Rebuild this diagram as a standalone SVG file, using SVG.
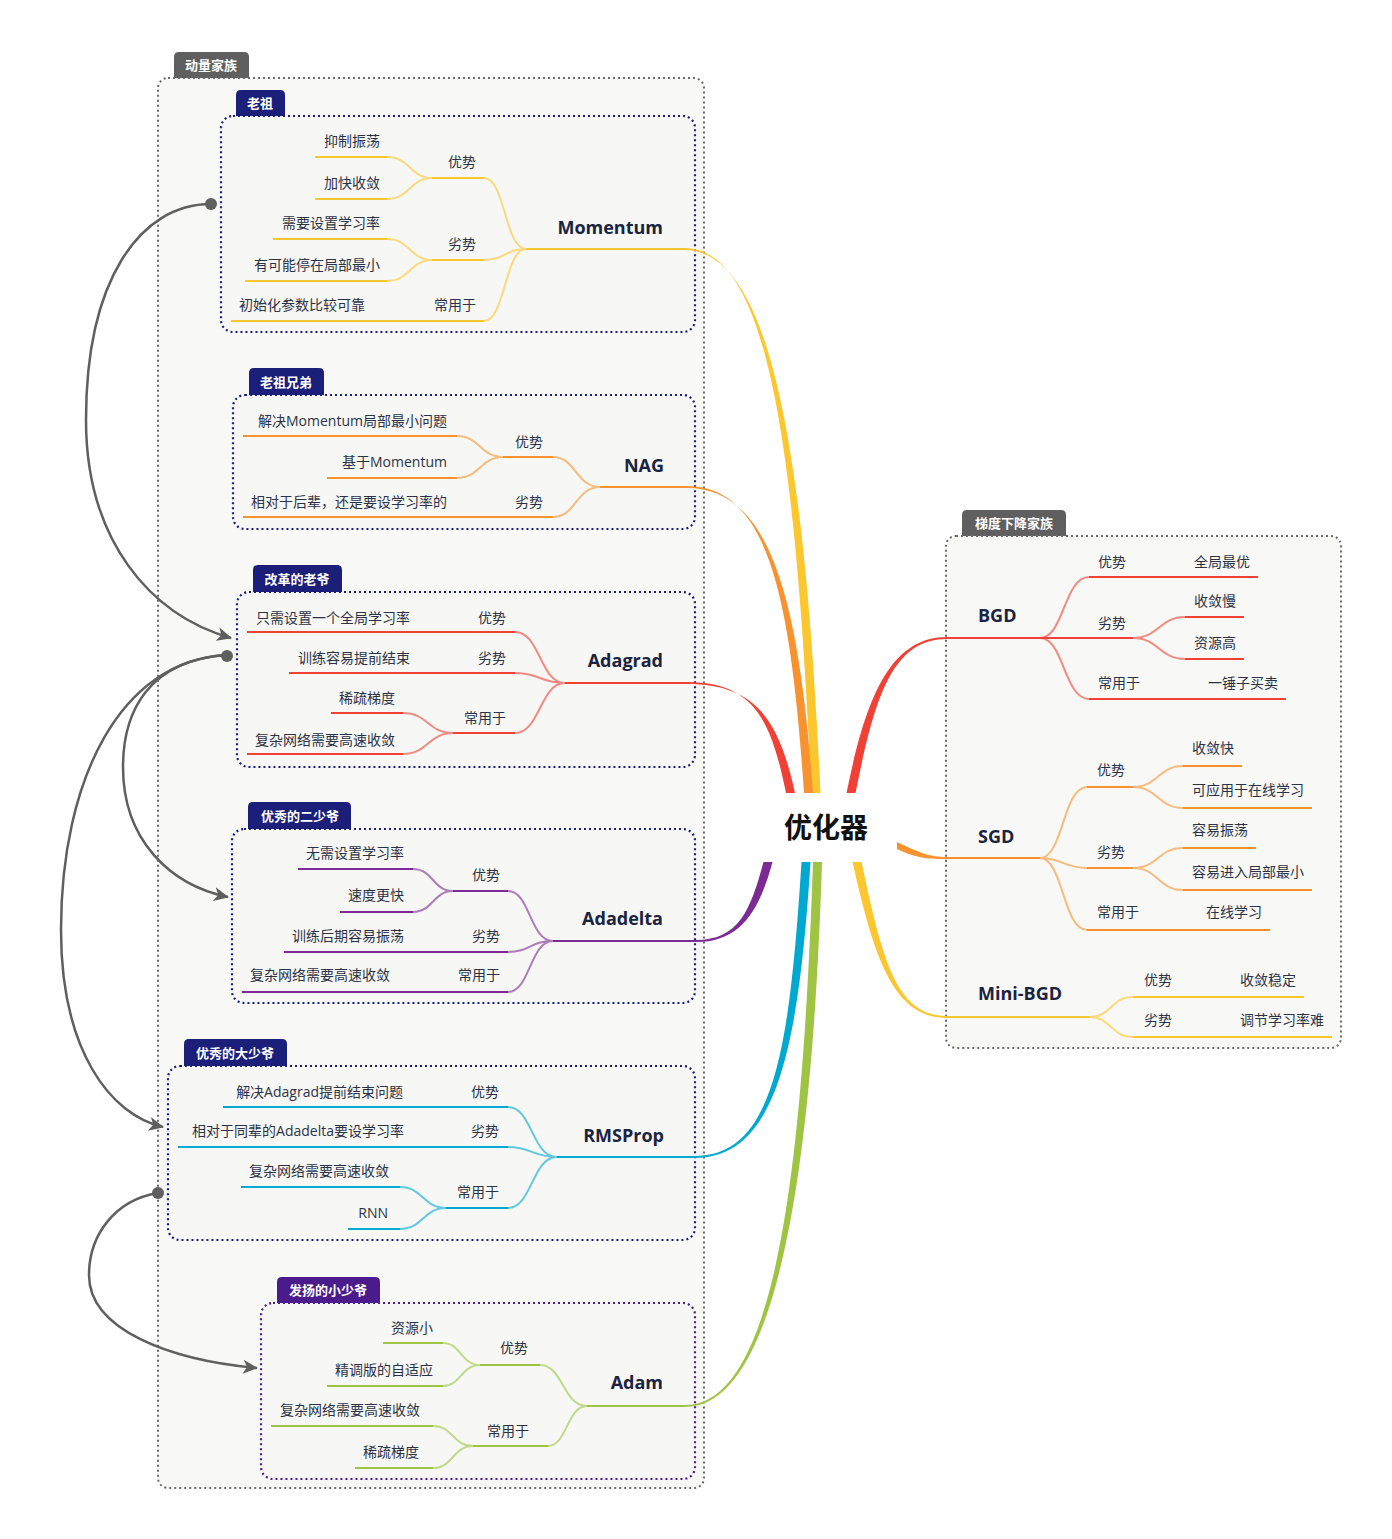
<svg xmlns="http://www.w3.org/2000/svg" width="1392" height="1539" viewBox="0 0 1392 1539">
<defs>
<style>
.ol{fill:#f8f8f6;stroke:#6a6a6a;stroke-width:2;stroke-dasharray:2 3}
.il{fill:#f7f7f5;stroke:#1b1f7a;stroke-width:2.2;stroke-dasharray:2 3}
.ilp{fill:#f7f7f5;stroke:#4b1a8b;stroke-width:2.2;stroke-dasharray:2 3}
.tg{fill:#5f5f5f}
.tn{fill:#1b1f7a}
.tp{fill:#4b1a8b}
.tt{font-family:"Noto Sans CJK SC",sans-serif;font-weight:bold;font-size:13px;fill:#fff;text-anchor:middle}
.t{font-family:"Open Sans","Noto Sans CJK SC",sans-serif;font-size:14px;fill:#2b3245}
.e{text-anchor:end}
.n{font-family:"Open Sans","Noto Sans CJK SC",sans-serif;font-weight:bold;font-size:18px;fill:#1a2340}
.l{fill:none;stroke-width:2}
.c{fill:none;stroke-width:2;stroke-opacity:0.6}
.Y{stroke:#fcc72e}.O{stroke:#f7922e}.R{stroke:#ef4136}.P{stroke:#7b2b93}.C{stroke:#00a9cf}.G{stroke:#9fc443}
.ar{fill:none;stroke:#5f5f5f;stroke-width:2.5}
</style>
<marker id="ah" markerUnits="userSpaceOnUse" markerWidth="16" markerHeight="14" refX="14" refY="7" orient="auto">
<path d="M0,0 L15,7 L0,14 L4,7 Z" fill="#5f5f5f"/>
</marker>
</defs>
<rect width="1392" height="1539" fill="#ffffff"/>

<g id="family-momentum">
<path class="tg" d="M174 79 V57 Q174 52 179 52 H244 Q249 52 249 57 V79 Z"/>
<text class="tt" x="211" y="70">动量家族</text>
<rect class="ol" x="158" y="78" width="546" height="1410" rx="10"/>
</g>
<g id="family-gd">
<path class="tg" d="M962 537 V515 Q962 510 967 510 H1061 Q1066 510 1066 515 V537 Z"/>
<text class="tt" x="1014" y="528">梯度下降家族</text>
<rect class="ol" x="946" y="536" width="395" height="512" rx="10"/>
</g>

<g id="node-momentum">
<path class="tn" d="M236 117 V95 Q236 90 241 90 H280 Q285 90 285 95 V117 Z"/>
<text class="tt" x="260" y="108">老祖</text>
<rect class="il" x="221" y="116" width="474" height="216" rx="12"/>
<path class="l Y" d="M315 157 H387 M315 199 H387 M432 178 H484 M273 239 H387 M245 281 H387 M432 260 H484 M231 321 H484 M526 249 H686"/>
<path class="c Y" d="M387 157 C410 157 410 178 432 178 M387 199 C410 199 410 178 432 178 M387 239 C410 239 410 260 432 260 M387 281 C410 281 410 260 432 260 M484 178 C505 178 505 249 526 249 M484 260 C505 260 505 249 526 249 M484 321 C505 321 505 249 526 249"/>
<text class="t e" x="380" y="146">抑制振荡</text>
<text class="t e" x="380" y="188">加快收敛</text>
<text class="t e" x="380" y="228">需要设置学习率</text>
<text class="t e" x="380" y="270">有可能停在局部最小</text>
<text class="t" x="239" y="310">初始化参数比较可靠</text>
<text class="t e" x="476" y="167">优势</text>
<text class="t e" x="476" y="249">劣势</text>
<text class="t e" x="476" y="310">常用于</text>
<text class="n e" x="663" y="234">Momentum</text>
</g>

<g id="node-nag">
<path class="tn" d="M249 396 V373 Q249 368 254 368 H319 Q324 368 324 373 V396 Z"/>
<text class="tt" x="286" y="387">老祖兄弟</text>
<rect class="il" x="233" y="395" width="462" height="134" rx="12"/>
<path class="l O" d="M243 436 H457 M327 478 H457 M503 457 H553 M243 517 H553 M600 487 H687"/>
<path class="c O" d="M457 436 C480 436 480 457 503 457 M457 478 C480 478 480 457 503 457 M553 457 C576 457 576 487 600 487 M553 517 C576 517 576 487 600 487"/>
<text class="t e" x="447" y="426">解决Momentum局部最小问题</text>
<text class="t e" x="447" y="467">基于Momentum</text>
<text class="t e" x="447" y="507">相对于后辈，还是要设学习率的</text>
<text class="t e" x="543" y="447">优势</text>
<text class="t e" x="543" y="507">劣势</text>
<text class="n e" x="664" y="472">NAG</text>
</g>

<g id="node-adagrad">
<path class="tn" d="M253 593 V570 Q253 565 258 565 H337 Q342 565 342 570 V593 Z"/>
<text class="tt" x="297" y="584">改革的老爷</text>
<rect class="il" x="237" y="592" width="458" height="175" rx="12"/>
<path class="l R" d="M247 632 H515 M289 673 H515 M565 683 H687 M331 713 H403 M247 754 H403 M453 733 H515"/>
<path class="c R" d="M515 632 C540 632 540 683 565 683 M515 673 C540 673 540 683 565 683 M403 713 C428 713 428 733 453 733 M403 754 C428 754 428 733 453 733 M515 733 C540 733 540 683 565 683"/>
<text class="t e" x="410" y="623">只需设置一个全局学习率</text>
<text class="t e" x="506" y="623">优势</text>
<text class="t e" x="410" y="663">训练容易提前结束</text>
<text class="t e" x="506" y="663">劣势</text>
<text class="t e" x="395" y="703">稀疏梯度</text>
<text class="t e" x="395" y="745">复杂网络需要高速收敛</text>
<text class="t e" x="506" y="723">常用于</text>
<text class="n e" x="663" y="667">Adagrad</text>
</g>

<g id="node-adadelta">
<path class="tn" d="M248 830 V807 Q248 802 253 802 H346 Q351 802 351 807 V830 Z"/>
<text class="tt" x="300" y="821">优秀的二少爷</text>
<rect class="il" x="232" y="829" width="463" height="174" rx="12"/>
<path class="l P" d="M298 869 H413 M340 912 H413 M453 891 H508 M284 952 H508 M242 992 H508 M553 941 H696"/>
<path class="c P" d="M413 869 C433 869 433 891 453 891 M413 912 C433 912 433 891 453 891 M508 891 C530 891 530 941 553 941 M508 952 C530 952 530 941 553 941 M508 992 C530 992 530 941 553 941"/>
<text class="t e" x="404" y="858">无需设置学习率</text>
<text class="t e" x="404" y="900">速度更快</text>
<text class="t e" x="500" y="880">优势</text>
<text class="t e" x="404" y="941">训练后期容易振荡</text>
<text class="t e" x="500" y="941">劣势</text>
<text class="t e" x="390" y="980">复杂网络需要高速收敛</text>
<text class="t e" x="500" y="980">常用于</text>
<text class="n e" x="663" y="925">Adadelta</text>
</g>

<g id="node-rmsprop">
<path class="tn" d="M184 1067 V1044 Q184 1039 189 1039 H282 Q287 1039 287 1044 V1067 Z"/>
<text class="tt" x="235" y="1058">优秀的大少爷</text>
<rect class="il" x="168" y="1066" width="527" height="174" rx="12"/>
<path class="l C" d="M223 1107 H508 M178 1147 H508 M241 1187 H400 M348 1229 H400 M446 1208 H508 M557 1157 H695"/>
<path class="c C" d="M508 1107 C532 1107 532 1157 557 1157 M508 1147 C532 1147 532 1157 557 1157 M400 1187 C423 1187 423 1208 446 1208 M400 1229 C423 1229 423 1208 446 1208 M508 1208 C532 1208 532 1157 557 1157"/>
<text class="t e" x="403" y="1097">解决Adagrad提前结束问题</text>
<text class="t e" x="499" y="1097">优势</text>
<text class="t e" x="404" y="1136">相对于同辈的Adadelta要设学习率</text>
<text class="t e" x="499" y="1136">劣势</text>
<text class="t e" x="389" y="1176">复杂网络需要高速收敛</text>
<text class="t e" x="388" y="1218">RNN</text>
<text class="t e" x="499" y="1197">常用于</text>
<text class="n e" x="664" y="1142">RMSProp</text>
</g>

<g id="node-adam">
<path class="tp" d="M277 1304 V1282 Q277 1277 282 1277 H375 Q380 1277 380 1282 V1304 Z"/>
<text class="tt" x="328" y="1295">发扬的小少爷</text>
<rect class="ilp" x="261" y="1303" width="434" height="176" rx="12"/>
<path class="l G" d="M383 1343 H443 M327 1386 H443 M480 1365 H540 M271 1426 H433 M355 1468 H433 M473 1446 H548 M587 1406 H685"/>
<path class="c G" d="M443 1343 C461 1343 461 1365 480 1365 M443 1386 C461 1386 461 1365 480 1365 M540 1365 C563 1365 563 1406 587 1406 M433 1426 C453 1426 453 1446 473 1446 M433 1468 C453 1468 453 1446 473 1446 M548 1446 C567 1446 567 1406 587 1406"/>
<text class="t e" x="433" y="1333">资源小</text>
<text class="t e" x="433" y="1375">精调版的自适应</text>
<text class="t e" x="528" y="1353">优势</text>
<text class="t e" x="420" y="1415">复杂网络需要高速收敛</text>
<text class="t e" x="419" y="1457">稀疏梯度</text>
<text class="t e" x="529" y="1436">常用于</text>
<text class="n e" x="663" y="1389">Adam</text>
</g>

<g id="node-bgd">
<path class="l R" d="M947 638 H1133 M1089 577 H1258 M1089 699 H1286 M1185 617 H1244 M1185 659 H1244"/>
<path class="c R" d="M1040 638 C1064 638 1064 577 1089 577 M1040 638 C1064 638 1064 699 1089 699 M1133 638 C1159 638 1159 617 1185 617 M1133 638 C1159 638 1159 659 1185 659"/>
<text class="n" x="978" y="622">BGD</text>
<text class="t" x="1098" y="567">优势</text>
<text class="t" x="1194" y="567">全局最优</text>
<text class="t" x="1098" y="628">劣势</text>
<text class="t" x="1194" y="606">收敛慢</text>
<text class="t" x="1194" y="648">资源高</text>
<text class="t" x="1098" y="688">常用于</text>
<text class="t" x="1208" y="688">一锤子买卖</text>
</g>

<g id="node-sgd">
<path class="l O" d="M947 858 H1040 M1087 787 H1133 M1183 766 H1242 M1183 808 H1312 M1087 868 H1133 M1183 848 H1256 M1183 890 H1312 M1087 930 H1270"/>
<path class="c O" d="M1040 858 C1063 858 1063 787 1087 787 M1040 858 C1063 858 1063 868 1087 868 M1040 858 C1063 858 1063 930 1087 930 M1133 787 C1158 787 1158 766 1183 766 M1133 787 C1158 787 1158 808 1183 808 M1133 868 C1158 868 1158 848 1183 848 M1133 868 C1158 868 1158 890 1183 890"/>
<text class="n" x="978" y="843">SGD</text>
<text class="t" x="1097" y="775">优势</text>
<text class="t" x="1192" y="753">收敛快</text>
<text class="t" x="1192" y="795">可应用于在线学习</text>
<text class="t" x="1097" y="857">劣势</text>
<text class="t" x="1192" y="835">容易振荡</text>
<text class="t" x="1192" y="877">容易进入局部最小</text>
<text class="t" x="1097" y="917">常用于</text>
<text class="t" x="1206" y="917">在线学习</text>
</g>

<g id="node-minibgd">
<path class="l Y" d="M947 1017 H1090 M1133 997 H1304 M1133 1037 H1332"/>
<path class="c Y" d="M1090 1017 C1111 1017 1111 997 1133 997 M1090 1017 C1111 1017 1111 1037 1133 1037"/>
<text class="n" x="978" y="1000">Mini-BGD</text>
<text class="t" x="1144" y="985">优势</text>
<text class="t" x="1240" y="985">收敛稳定</text>
<text class="t" x="1144" y="1025">劣势</text>
<text class="t" x="1240" y="1025">调节学习率难</text>
</g>

<g id="connectors">
<path fill="#fcc72e" d="M811.5 793 C795.5 450 769 251 686 248 L686 250 C771 253 804.5 450 820.5 793 Z"/>
<path fill="#f7922e" d="M804 793 C791 600 769 486 687 486 L687 488 C771 488 799 600 813 793 Z"/>
<path fill="#ef4136" d="M786 793 C771 720 754 682 687 682 L687 684 C756 684 779 720 795 793 Z"/>
<path fill="#7b2b93" d="M763.5 862 C750.5 910 739 940 696 940 L696 942 C741 942 759.5 910 772.5 862 Z"/>
<path fill="#00a9cf" d="M801.5 862 C789.5 1050 774 1156 695 1156 L695 1158 C776 1158 798.5 1050 810.5 862 Z"/>
<path fill="#9fc443" d="M813 862 C803 1150 779 1405 685 1405 L685 1407 C781 1407 813 1150 822 862 Z"/>
<path fill="#ef4136" d="M846.5 793 C865.5 700 889 637 947 637 L947 639 C891 639 874.5 700 855.5 793 Z"/>
<path fill="#f7922e" d="M897 842 C920 853 930 857 947 857 L947 859 C930 859 918 859 897 849 Z"/>
<path fill="#fcc72e" d="M852.5 862 C874.5 960 894 1018 947 1018 L947 1016 C896 1016 882.5 960 861.5 862 Z"/>
<path class="ar" d="M211 204 C140 204 86 280 86 420 C86 540 150 615 231 638" marker-end="url(#ah)"/>
<circle cx="211" cy="204" r="6" fill="#5f5f5f"/>
<path class="ar" d="M227 655 C150 660 123 710 123 767 C123 840 170 885 228 897" marker-end="url(#ah)"/>
<path class="ar" d="M227 655 C120 660 61 780 61 930 C61 1050 110 1115 163 1127" marker-end="url(#ah)"/>
<circle cx="227" cy="656" r="6" fill="#5f5f5f"/>
<path class="ar" d="M158 1193 C115 1200 89 1235 89 1275 C89 1330 170 1360 257 1368" marker-end="url(#ah)"/>
<circle cx="158" cy="1193" r="6" fill="#5f5f5f"/>
</g>

<g id="node-center">
<rect x="760" y="793" width="137" height="69" fill="#ffffff"/>
<text x="826" y="838" font-family="Noto Sans CJK SC,sans-serif" font-weight="bold" font-size="28" fill="#111" text-anchor="middle">优化器</text>
</g>
</svg>
